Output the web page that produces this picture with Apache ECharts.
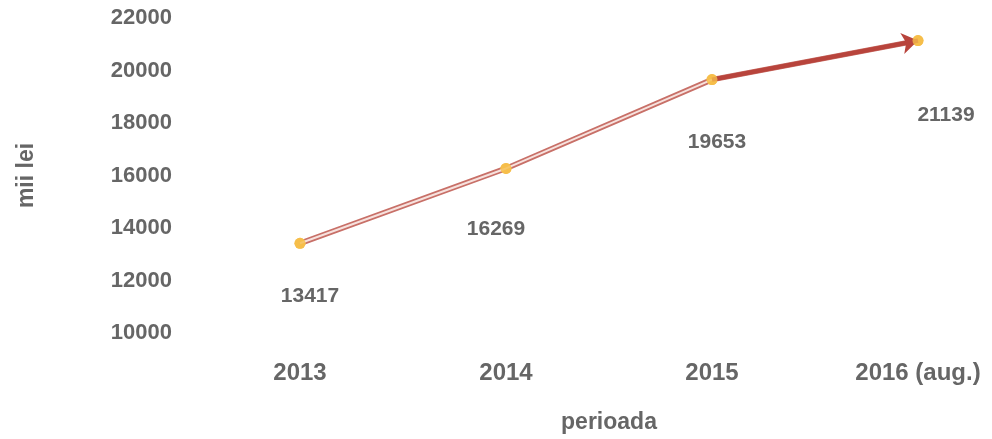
<!DOCTYPE html>
<html><head><meta charset="utf-8">
<script src="https://cdn.jsdelivr.net/npm/echarts@6/dist/echarts.min.js"></script>
<style>html,body{margin:0;padding:0;background:#fff}#c{width:992px;height:439px}</style>
</head><body><div id="c"></div>
<script>
const categories = ['2013', '2014', '2015', '2016 (aug.)'];
const values = [13417, 16269, 19653, 21139];
const yTicks = [10000, 12000, 14000, 16000, 18000, 20000, 22000];
const yAxisName = 'mii lei';
const xAxisName = 'perioada';

const labelOffsets = [[10, 32], [-10, 40], [5, 42], [28, 54]];
const font = '"Liberation Sans", Arial, sans-serif';
const gray = '#666666';

const chart = echarts.init(document.getElementById('c'));
chart.setOption({
  animation: false,
  grid: { left: 300, right: 74, top: 18, bottom: 102, containLabel: false },
  xAxis: {
    type: 'category', data: categories, boundaryGap: false,
    axisLine: { show: false }, axisTick: { show: false },
    axisLabel: { margin: 28, color: gray, fontSize: 24, fontWeight: 'bold', fontFamily: font },
    name: xAxisName, nameLocation: 'middle', nameGap: 78,
    nameTextStyle: { color: gray, fontSize: 23, fontWeight: 'bold', fontFamily: font }
  },
  yAxis: {
    type: 'value', min: yTicks[0], max: yTicks[yTicks.length - 1], interval: 2000,
    axisLine: { show: false }, axisTick: { show: false }, splitLine: { show: false },
    axisLabel: { margin: 128, color: gray, fontSize: 22, fontWeight: 'bold', fontFamily: font,
      formatter: v => String(v) },
    name: yAxisName, nameLocation: 'middle', nameGap: 262, nameRotate: 90,
    nameTextStyle: { color: gray, fontSize: 23, fontWeight: 'bold', fontFamily: font }
  },
  series: [
    {
      type: 'line', data: values.map((v, i) => ({
        value: v,
        label: { show: true, position: 'bottom', offset: labelOffsets[i] }
      })),
      lineStyle: { color: '#c87068', width: 5.5 },
      symbol: 'circle', symbolSize: 11,
      itemStyle: { color: '#f6be4a' },
      label: { color: gray, fontSize: 21, fontWeight: 'bold', fontFamily: font },
      z: 3
    },
    {
      type: 'line', data: values.slice(0, 3).concat([null]),
      lineStyle: { color: '#f7e2de', width: 2 },
      symbol: 'none', z: 4, silent: true,
      markLine: {
        silent: true, symbol: ['none', 'arrow'], symbolSize: 16,
        label: { show: false },
        lineStyle: { color: '#b8443c', width: 4.5, type: 'solid' },
        data: [[{ coord: [categories[2], values[2]] }, { coord: [categories[3], values[3]] }]]
      }
    },
    {
      type: 'scatter', data: values, symbolSize: 11, z: 6, silent: true,
      itemStyle: { color: '#f6be4a' }
    }
  ]
});
</script></body></html>
